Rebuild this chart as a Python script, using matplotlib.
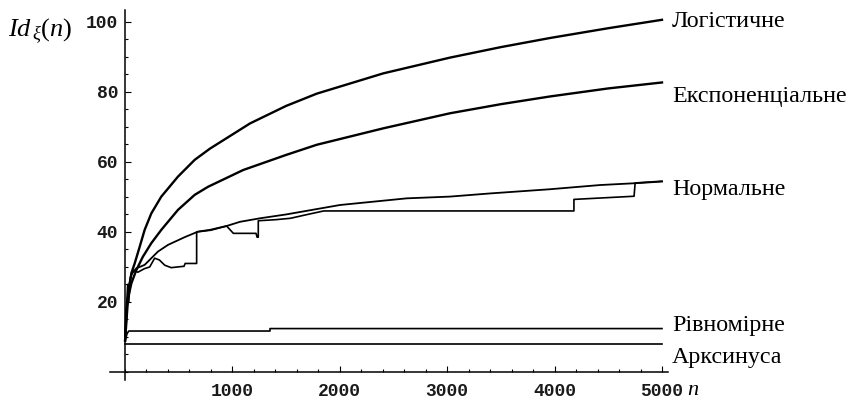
import matplotlib
matplotlib.use('Agg')
import matplotlib.pyplot as plt
from matplotlib.ticker import MultipleLocator, FixedLocator

plt.rcParams['mathtext.fontset'] = 'custom'
plt.rcParams['mathtext.rm'] = 'Liberation Serif'
plt.rcParams['mathtext.it'] = 'Liberation Serif:italic'

# logistic curve
logist_n = [1, 12, 34, 59, 90, 137, 183, 245, 338, 493, 649, 791, 1164, 1500, 1785,
            2405, 3026, 3500, 3957, 4500, 5000]
logist_v = [9, 17.7, 22.5, 28.2, 31, 35.8, 40.6, 45.3, 50.1, 55.8, 60.6, 63.8, 71, 76, 79.5,
            85.3, 89.8, 92.8, 95.4, 98.2, 100.6]

# exponential
expon_n = [1, 28, 59, 105, 166, 245, 338, 493, 649, 773, 1101, 1500, 1785, 2405, 3026,
           3500, 3957, 4500, 5000]
expon_v = [9, 21, 25.3, 29.1, 32.9, 36.8, 40.6, 46.3, 50.6, 52.9, 57.7, 62, 64.9, 69.6, 73.9,
           76.5, 78.7, 81, 82.7]

# normal, smooth run
norm1_n = [1, 30, 60, 105, 183, 245, 307, 400, 555, 680, 791, 946, 1071, 1257, 1500, 2002,
           2623, 3026, 3398, 3957, 4423, 4800, 5000]
norm1_v = [9, 24, 28, 29.6, 30.6, 32.5, 34.4, 36.3, 38.5, 40.1, 40.6, 41.7, 42.9, 43.9, 45, 47.7,
           49.6, 50.1, 51, 52.2, 53.4, 54, 54.4]

# normal, jagged run
norm2_n = [1, 15, 25, 35, 50, 80, 120, 180, 230, 276, 320, 370, 430, 550, 560, 667, 667, 800,
           946, 1009, 1220, 1230, 1241, 1241, 1400, 1540, 1700, 1850, 4180, 4180, 4740, 4750, 5000]
norm2_v = [9, 19, 25, 20, 27, 29, 28.5, 29.5, 30, 32.5, 32, 30.5, 29.8, 30.2, 31, 31, 40, 40.5,
           41.7, 39.6, 39.6, 38.5, 38.5, 43.2, 43.5, 43.9, 45, 46, 46, 49.3, 50.2, 54, 54.5]

# uniform
unif_n = [1, 20, 35, 1350, 1350, 5000]
unif_v = [9, 11, 11.7, 11.7, 12.4, 12.4]

# arcsine
arcs_n = [1, 5000]
arcs_v = [8.1, 8.1]

labels = ['Логістичне', 'Експоненціальне', 'Нормальне', 'Рівномірне', 'Арксинуса']
label_v = [100, 78.6, 52, 13.4, 4]

x_ticks = [1000, 2000, 3000, 4000, 5000]
y_ticks = [20, 40, 60, 80, 100]

fig = plt.figure(figsize=(8.48, 4), dpi=100)
ax = fig.add_axes([110 / 848, 20 / 400, 558 / 848, 370 / 400])

ax.plot(logist_n, logist_v, color='black', lw=1.7)
ax.plot(expon_n, expon_v, color='black', lw=1.7)
ax.plot(norm1_n, norm1_v, color='black', lw=1.3)
ax.plot(norm2_n, norm2_v, color='black', lw=1.2)
ax.plot(unif_n, unif_v, color='black', lw=1.2)
ax.plot(arcs_n, arcs_v, color='black', lw=1.2)

ax.set_xlim(-139.7, 5055.9)
ax.set_ylim(-2.29, 103.4)

for s in ['top', 'right']:
    ax.spines[s].set_visible(False)
ax.spines['left'].set_position(('data', 0))
ax.spines['bottom'].set_position(('data', 0))
ax.spines['left'].set_linewidth(1.1)
ax.spines['bottom'].set_linewidth(1.1)

ax.xaxis.set_major_locator(FixedLocator(x_ticks))
ax.yaxis.set_major_locator(FixedLocator(y_ticks))
ax.xaxis.set_minor_locator(MultipleLocator(200))
ax.yaxis.set_minor_locator(MultipleLocator(5))
ax.tick_params(which='major', direction='in', length=4, width=0.8, pad=8)
ax.tick_params(which='minor', direction='in', length=2.3, width=0.8)
ax.tick_params(axis='y', which='major', pad=5)

for t in ax.get_xticklabels() + ax.get_yticklabels():
    t.set_fontfamily('Liberation Mono')
    t.set_fontweight('bold')
    t.set_fontsize(13)
    t.set_color('#1a1a1a')

for lab, v in zip(labels, label_v):
    ax.text(5093, v, lab, fontsize=17.3, family='Liberation Serif', va='center', ha='left',
            clip_on=False)

fig.text(8 / 848, 1 - 31 / 400, r'$Id_{\,\xi}(n)$', fontsize=19, va='center', ha='left')
fig.text(687 / 848, 1 - 395 / 400, r'$n$', fontsize=16, va='baseline', ha='left')

fig.savefig('out.png', dpi=100)
